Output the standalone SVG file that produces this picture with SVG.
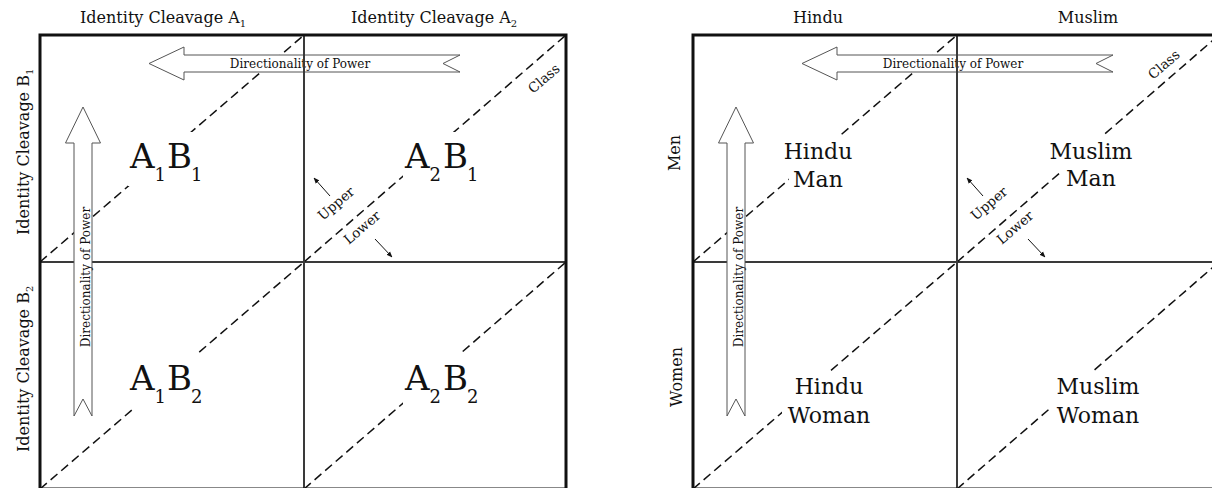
<svg xmlns="http://www.w3.org/2000/svg" width="1212" height="488" viewBox="0 0 1212 488">
  <style>
    text { font-family: "DejaVu Serif", "Liberation Serif", serif; fill: #111; }
    .hdr { font-size: 16px; }
    .sub { font-size: 10px; }
    .big { font-size: 34px; }
    .bigsub { font-size: 18px; }
    .cell { font-size: 22px; text-anchor: middle; }
    .small { font-size: 13.5px; text-anchor: middle; }
    .power { font-size: 12px; text-anchor: middle; }
    .border { fill: none; stroke: #111; stroke-width: 3; }
    .divider { stroke: #3a3a3a; stroke-width: 2; fill: none; }
    .classline { stroke: #111; stroke-width: 1.5; stroke-dasharray: 9 5; fill: none; }
    .bigarrow { fill: #fff; stroke: #555; stroke-width: 1; }
    .pointer { stroke: #111; stroke-width: 1; fill: none; marker-end: url(#tip); }
    .mask { fill: #fff; }
  </style>
  <defs>
    <marker id="tip" viewBox="0 0 10 10" refX="9" refY="5" markerWidth="6" markerHeight="6" orient="auto" markerUnits="userSpaceOnUse">
      <path d="M0,1 L10,5 L0,9 Z" fill="#111"/>
    </marker>
    <!-- reusable pieces of one 2x2 matrix; the horizontal divider sits under the arrows -->
    <g id="hdivider"><line class="divider" x1="40" y1="262" x2="566" y2="262"/></g>
    <g id="classlines">
      <line class="classline" x1="40" y1="262" x2="304" y2="35"/>
      <line class="classline" x1="304" y1="262" x2="566" y2="35"/>
      <line class="classline" x1="40" y1="489" x2="304" y2="262"/>
      <line class="classline" x1="304" y1="489" x2="566" y2="262"/>
    </g>
    <g id="powerarrows">
      <polygon class="bigarrow" points="83,107 100.5,143 92,143 92,416 83,399 74,416 74,143 65.5,143"/>
      <text class="power" transform="translate(90,277) rotate(-90)">Directionality of Power</text>
      <polygon class="bigarrow" points="149,63.5 184,47 184,55 460,55 443,63.5 460,72 184,72 184,80"/>
      <text class="power" x="300" y="68">Directionality of Power</text>
    </g>
    <g id="frame">
      <line class="divider" x1="304" y1="35" x2="304" y2="489"/>
      <rect class="border" x="40" y="35" width="526" height="454"/>
    </g>
    <g id="upperlower">
      <line class="pointer" x1="330" y1="196" x2="314" y2="178"/>
      <line class="pointer" x1="375" y1="239" x2="392" y2="257"/>
      <text class="small" transform="translate(339,207) rotate(-40.57)">Upper</text>
      <text class="small" transform="translate(365,231) rotate(-40.57)">Lower</text>
    </g>
  </defs>

  <!-- grid lines and class diagonals -->
  <g id="connectors">
    <use href="#hdivider"/>
    <use href="#classlines"/>
    <use href="#hdivider" transform="translate(653,0)"/>
    <use href="#classlines" transform="translate(653,0)"/>
  </g>

  <!-- abstract matrix -->
  <g id="matrix-abstract">
    <g id="power-arrows-abstract"><use href="#powerarrows"/></g>
    <g id="frame-abstract"><use href="#frame"/></g>
    <g id="header-a1"><text class="hdr" x="80" y="23">Identity Cleavage A<tspan class="sub" dy="4">1</tspan></text></g>
    <g id="header-a2"><text class="hdr" x="351" y="23">Identity Cleavage A<tspan class="sub" dy="4">2</tspan></text></g>
    <g id="header-b1"><text class="hdr" transform="translate(29,235) rotate(-90)">Identity Cleavage B<tspan class="sub" dy="4">1</tspan></text></g>
    <g id="header-b2"><text class="hdr" transform="translate(29,452) rotate(-90)">Identity Cleavage B<tspan class="sub" dy="4">2</tspan></text></g>
    <g id="cell-a1b1">
      <rect class="mask" x="128" y="132" width="77" height="54"/>
      <text class="big" y="168"><tspan x="130">A</tspan><tspan class="bigsub" x="154.5" y="181">1</tspan><tspan x="167" y="168">B</tspan><tspan class="bigsub" x="191" y="181">1</tspan></text>
    </g>
    <g id="cell-a2b1">
      <rect class="mask" x="403" y="132" width="81" height="54"/>
      <text class="big" y="168"><tspan x="405">A</tspan><tspan class="bigsub" x="429.5" y="181">2</tspan><tspan x="443" y="168">B</tspan><tspan class="bigsub" x="467" y="181">1</tspan></text>
    </g>
    <g id="cell-a1b2">
      <rect class="mask" x="128" y="354" width="77" height="54"/>
      <text class="big" y="390"><tspan x="130">A</tspan><tspan class="bigsub" x="154.5" y="403">1</tspan><tspan x="167" y="390">B</tspan><tspan class="bigsub" x="191" y="403">2</tspan></text>
    </g>
    <g id="cell-a2b2">
      <rect class="mask" x="403" y="354" width="81" height="54"/>
      <text class="big" y="390"><tspan x="405">A</tspan><tspan class="bigsub" x="429.5" y="403">2</tspan><tspan x="443" y="390">B</tspan><tspan class="bigsub" x="467" y="403">2</tspan></text>
    </g>
    <g id="class-abstract">
      <use href="#upperlower"/>
      <text class="small" transform="translate(547,82) rotate(-40.57)">Class</text>
    </g>
  </g>

  <!-- religion / gender matrix -->
  <g id="matrix-applied">
    <g id="power-arrows-applied"><use href="#powerarrows" transform="translate(653,0)"/></g>
    <g id="frame-applied"><use href="#frame" transform="translate(653,0)"/></g>
    <g id="header-hindu"><text class="hdr" x="818" y="23" text-anchor="middle">Hindu</text></g>
    <g id="header-muslim"><text class="hdr" x="1088" y="23" text-anchor="middle">Muslim</text></g>
    <g id="header-men"><text class="hdr" text-anchor="middle" transform="translate(680,153) rotate(-90)">Men</text></g>
    <g id="header-women"><text class="hdr" text-anchor="middle" transform="translate(682,377) rotate(-90)">Women</text></g>
    <g id="cell-hindu-man">
      <rect class="mask" x="780" y="136" width="76" height="29"/>
      <rect class="mask" x="789" y="164" width="58" height="28"/>
      <text class="cell" x="818" y="159">Hindu</text>
      <text class="cell" x="818" y="187">Man</text>
    </g>
    <g id="cell-muslim-man">
      <rect class="mask" x="1044" y="136" width="94" height="29"/>
      <rect class="mask" x="1062" y="164" width="59" height="28"/>
      <text class="cell" x="1091" y="159">Muslim</text>
      <text class="cell" x="1091" y="186">Man</text>
    </g>
    <g id="cell-hindu-woman">
      <rect class="mask" x="790" y="371" width="78" height="29"/>
      <rect class="mask" x="782" y="399" width="94" height="29"/>
      <text class="cell" x="829" y="394">Hindu</text>
      <text class="cell" x="829" y="423">Woman</text>
    </g>
    <g id="cell-muslim-woman">
      <rect class="mask" x="1050" y="371" width="96" height="29"/>
      <rect class="mask" x="1051" y="399" width="95" height="29"/>
      <text class="cell" x="1098" y="394">Muslim</text>
      <text class="cell" x="1098" y="423">Woman</text>
    </g>
    <g id="class-applied">
      <use href="#upperlower" transform="translate(653,0)"/>
      <text class="small" transform="translate(1167,68) rotate(-40.57)">Class</text>
    </g>
  </g>
</svg>
